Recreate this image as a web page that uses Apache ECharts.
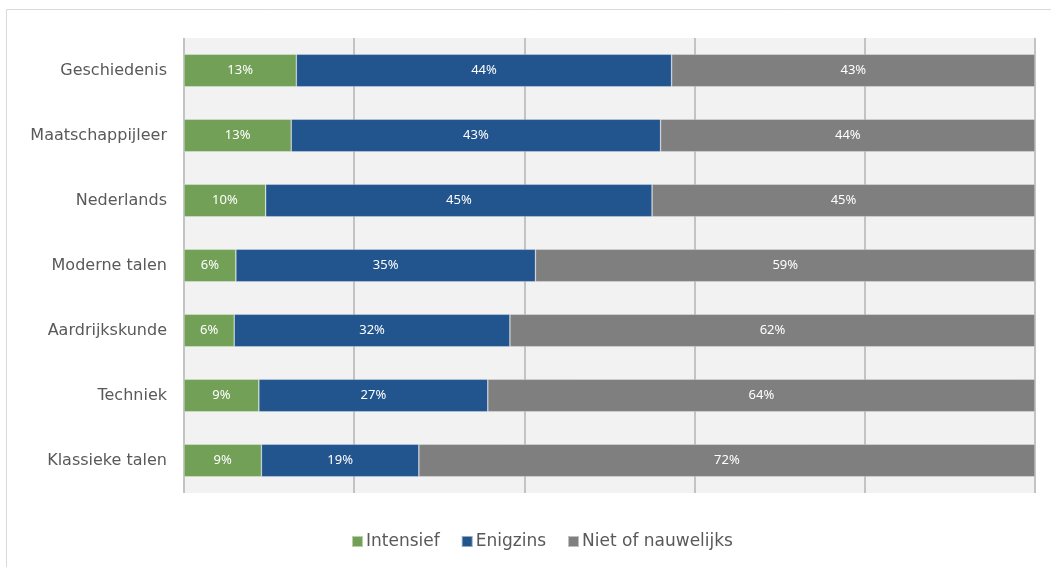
<!DOCTYPE html>
<html>
<head>
<meta charset="utf-8">
<script src="https://cdn.jsdelivr.net/npm/echarts@6/dist/echarts.min.js"></script>
<style>html,body{margin:0;padding:0;background:#fff}#c{width:1051px;height:567px}</style>
</head>
<body>
<div id="c"></div>
<script>
const categories = ['Geschiedenis','Maatschappijleer','Nederlands','Moderne talen','Aardrijkskunde','Techniek','Klassieke talen'];
const intensief = [13.2, 12.6, 9.6, 6.1, 5.9, 8.8, 9.1];
const enigzins = [44.1, 43.4, 45.4, 35.2, 32.4, 26.9, 18.5];
const niet = [42.7, 44.0, 45.0, 58.7, 61.7, 64.3, 72.4];
const seriesNames = ['Intensief','Enigzins','Niet of nauwelijks'];
const colors = ['#72a057','#22548e','#7f7f7f'];

const chart = echarts.init(document.getElementById('c'), null, {renderer:'canvas'});
const labelFont = {show:true, position:'inside', color:'#fff', fontFamily:'"Noto Sans"', fontSize:13,
  formatter: p => Math.round(p.value) + '%'};
function mk(name, data, color){
  return {name, type:'bar', stack:'t', data, barCategoryGap:'50%',
    itemStyle:{color, borderColor:'rgba(255,255,255,0.5)', borderWidth:0.6},
    label:labelFont, emphasis:{disabled:true}};
}
chart.setOption({
  animation:false,
  graphic:[{type:'rect', shape:{x:6.5,y:9.5,width:1100,height:700}, style:{fill:'none', stroke:'#d9d9d9', lineWidth:1}, silent:true}],
  legend:{bottom:12, left:346, itemWidth:11, itemHeight:11, itemGap:21, icon:'rect',
    textStyle:{fontFamily:'"DejaVu Sans"', fontSize:17, color:'#595959', padding:[0,0,0,-2]}},
  grid:{left:184, right:16, top:38, bottom:74, show:true, backgroundColor:'#f2f2f2', borderWidth:0},
  xAxis:{type:'value', min:0, max:100, interval:20, axisLabel:{show:false}, axisLine:{show:false}, axisTick:{show:false},
    splitLine:{show:true, lineStyle:{color:'#c3c3c3', width:2}}},
  yAxis:{type:'category', data:categories, inverse:true, axisTick:{show:false},
    axisLine:{show:false},
    axisLabel:{fontFamily:'"DejaVu Sans"', fontSize:16, color:'#595959', margin:17}},
  series:[mk(seriesNames[0], intensief, colors[0]), mk(seriesNames[1], enigzins, colors[1]), mk(seriesNames[2], niet, colors[2])]
});
</script>
</body>
</html>
